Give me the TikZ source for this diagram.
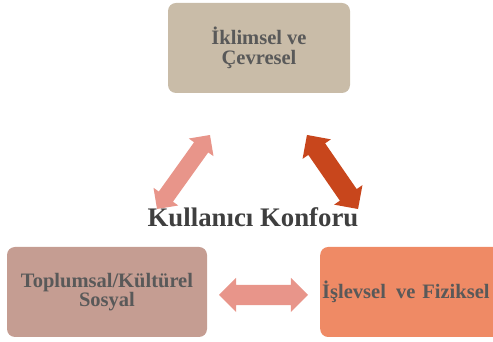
\documentclass[tikz,border=0pt]{standalone}
\usepackage{fontspec}
\setmainfont{Liberation Serif}
\usetikzlibrary{shapes.arrows}
\definecolor{boxtop}{HTML}{C9BCA8}
\definecolor{boxleft}{HTML}{C59D92}
\definecolor{boxright}{HTML}{EF8A65}
\definecolor{arrpink}{HTML}{E8958A}
\definecolor{arrred}{HTML}{C8461C}
\definecolor{txtgray}{HTML}{595959}
\definecolor{txtdark}{HTML}{3F3F3F}
\tikzset{
  catbox/.style={rounded corners=8pt, minimum height=90pt, inner sep=2pt,
    font=\fontsize{20.5}{18}\selectfont\bfseries, text=txtgray, align=center},
  blockarrow/.style={double arrow, draw=none, inner xsep=0pt, double arrow tip angle=90}
}
\begin{document}
\begin{tikzpicture}[x=1pt,y=1pt]
\useasboundingbox (0,0) rectangle (493,342);
\clip (0,0) rectangle (493,342);
\node[catbox, fill=boxtop, minimum width=182pt, font=\fontsize{20.5}{20}\selectfont\bfseries] (ikl) at (259,294) {İklimsel ve\\Çevresel};
\node[catbox, fill=boxleft, minimum width=200pt] (top) at (107,50) {Toplumsal/Kültürel\\Sosyal};
\node[catbox, fill=boxright, minimum width=190pt, text width=186pt, align=left, anchor=west] (fiz) at (320,50) {İşlevsel\, ve Fiziksel};
\node[font=\fontsize{26.8}{26}\selectfont\bfseries, text=txtdark, anchor=base, inner sep=0pt] (kk) at (253,115) {Kullanıcı Konforu};
\node[blockarrow, fill=arrpink, minimum height=89pt, inner ysep=10pt,
  double arrow head extend=7pt] (a1) at (263.5,47) {};
\node[blockarrow, fill=arrpink, minimum height=91pt, inner ysep=8.5pt,
  double arrow head extend=6.5pt, rotate=54.4] (a2) at (183.5,170) {};
\node[blockarrow, fill=arrred, minimum height=90pt, inner ysep=10pt,
  double arrow head extend=7pt, rotate=-55.4] (a3) at (332.5,170) {};
\end{tikzpicture}
\end{document}
